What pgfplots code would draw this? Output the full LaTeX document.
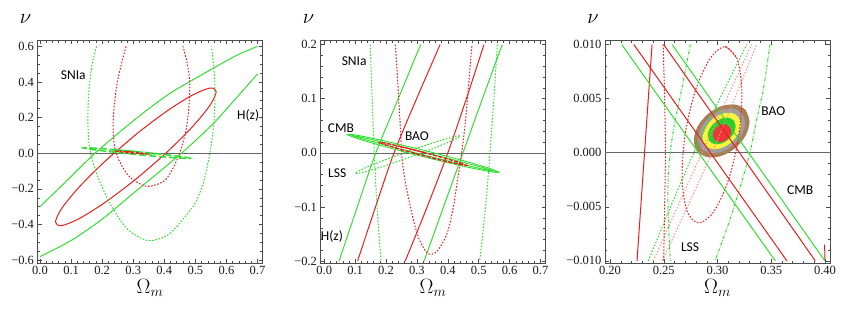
\documentclass[border=0pt]{standalone}
\usepackage{pgfplots}
\pgfplotsset{compat=1.18}
\usepackage{fontspec}
\setmainfont{Liberation Serif}
\newfontfamily\lab{Carlito}
\definecolor{cgreen}{RGB}{50,222,50}
\definecolor{cred}{RGB}{232,30,30}
\definecolor{cpink}{RGB}{255,140,140}
\definecolor{fbrown}{RGB}{168,128,88}
\definecolor{fgray}{RGB}{158,158,158}
\definecolor{fyellow}{RGB}{250,245,60}
\definecolor{fgreen}{RGB}{45,205,45}
\definecolor{fred}{RGB}{240,55,55}
\tikzset{lbl/.style={font=\lab\fontsize{13.5}{14}\selectfont, black}}
\pgfplotsset{
  base/.style={
    scale only axis, width=225pt, height=222.5pt, anchor=south west,
    axis line style={black!70, line width=0.5pt},
    tick align=inside, major tick length=4pt, minor tick length=2.2pt,
    every tick/.style={black!70, line width=0.5pt},
    tick label style={font=\fontsize{12.5}{13}\selectfont, black!90},
    scaled x ticks=false, scaled y ticks=false,
    xlabel={$\Omega_m$},
    xlabel style={font=\fontsize{21}{22}\selectfont, yshift=3pt},
    ylabel={$\nu$},
    ylabel style={rotate=-90, at={(rel axis cs:0,1)}, anchor=center, xshift=-12pt, yshift=21pt, font=\fontsize{20}{21}\selectfont},
    clip=true,
  },
  zline/.style={black!60, line width=0.5pt},
  gs/.style={draw=cgreen, line width=1pt, smooth},
  rs/.style={draw=cred, line width=1pt, smooth},
  gd/.style={draw=cgreen, line width=1pt, smooth, dash pattern=on 1.6pt off 1.6pt},
  rd/.style={draw=cred, line width=1pt, smooth, dash pattern=on 1.6pt off 1.6pt},
  pd/.style={draw=cpink, line width=1pt, smooth, dash pattern=on 1.4pt off 1.8pt},
  gdd/.style={draw=cgreen, line width=1pt, smooth, dash pattern=on 3pt off 1.5pt on 0.8pt off 1.5pt},
}
\begin{document}
\begin{tikzpicture}
\path[use as bounding box] (0,0) rectangle (855pt,316pt);
% ---------------- Panel 1 ----------------
\begin{axis}[base, at={(37.5pt,53pt)},
  xmin=-0.008, xmax=0.716, ymin=-0.616, ymax=0.633,
  xtick={0,0.1,0.2,0.3,0.4,0.5,0.6,0.7}, xticklabels={0.0,0.1,0.2,0.3,0.4,0.5,0.6,0.7},
  ytick={-0.6,-0.4,-0.2,0,0.2,0.4,0.6}, yticklabels={−0.6,−0.4,−0.2,0.0,0.2,0.4,0.6},
  minor x tick num=4, minor y tick num=3]
\addplot[zline] coordinates {(-0.01,0) (0.72,0)};
% H(z) green solid
\addplot[gs] coordinates {(0,-0.30) (0.09,-0.148) (0.177,0) (0.306,0.19) (0.413,0.33) (0.52,0.44) (0.628,0.545) (0.70,0.60)};
\addplot[gs] coordinates {(0,-0.58) (0.1,-0.49) (0.2,-0.37) (0.3,-0.225) (0.38,-0.11) (0.455,0) (0.515,0.095) (0.565,0.18) (0.625,0.297) (0.70,0.445)};
% red solid ellipse
\addplot[rs] coordinates {(0.3085,0.105) (0.2095,-0.0447) (0.1257,-0.1904) (0.0696,-0.3103) (0.05,-0.386) (0.0696,-0.4061) (0.1257,-0.3672) (0.2095,-0.2757) (0.3085,-0.145) (0.4075,0.0047) (0.4913,0.1504) (0.5474,0.2703) (0.567,0.346) (0.5474,0.3661) (0.4913,0.3272) (0.4075,0.2357) (0.3085,0.105) (0.2095,-0.0447)};
% SNIa red dotted
\addplot[rd] coordinates {(0.277,0.60) (0.262,0.5) (0.249,0.4) (0.241,0.3) (0.236,0.2) (0.236,0.1) (0.242,0.02) (0.26,-0.06) (0.29,-0.135) (0.343,-0.186) (0.40,-0.155) (0.432,-0.07) (0.455,0.03) (0.472,0.15) (0.481,0.3) (0.481,0.42) (0.472,0.52) (0.46,0.60)};
% SNIa green dotted
\addplot[gd] coordinates {(0.182,0.60) (0.168,0.5) (0.158,0.367) (0.154,0.2) (0.158,0.05) (0.172,-0.06) (0.195,-0.17) (0.231,-0.30) (0.284,-0.43) (0.348,-0.49) (0.41,-0.46) (0.46,-0.37) (0.499,-0.28) (0.525,-0.17) (0.541,-0.05) (0.553,0.07) (0.561,0.2) (0.563,0.367) (0.558,0.5) (0.552,0.60)};
% CMB green dashed thin ellipse
\addplot[draw=cgreen, line width=1.5pt, smooth, dash pattern=on 7pt off 3pt] coordinates {(0.311,0.009) (0.225,0.0224) (0.162,0.0301) (0.139,0.030) (0.162,0.0221) (0.225,0.0086) (0.311,-0.007) (0.397,-0.0204) (0.46,-0.0281) (0.483,-0.028) (0.46,-0.0201) (0.397,-0.0066) (0.311,0.009) (0.225,0.0224)};
% small BAO / combined
\addplot[gd] coordinates {(0.3,0.011) (0.26,0.0142) (0.2307,0.0149) (0.22,0.013) (0.2307,0.0089) (0.26,0.0038) (0.3,-0.001) (0.34,-0.0042) (0.3693,-0.0049) (0.38,-0.003) (0.3693,0.0011) (0.34,0.0062) (0.3,0.011) (0.26,0.0142)};
\addplot[draw=cred, line width=1.2pt, smooth, dash pattern=on 3pt off 2pt] coordinates {(0.295,0.007) (0.27,0.0106) (0.2517,0.0124) (0.245,0.012) (0.2517,0.0094) (0.27,0.0054) (0.295,0.001) (0.32,-0.0026) (0.3383,-0.0044) (0.345,-0.004) (0.3383,-0.0014) (0.32,0.0026) (0.295,0.007) (0.27,0.0106)};
\node[lbl] at (axis cs:0.107,0.44) {SNIa};
\node[lbl] at (axis cs:0.67,0.21) {H(z)};
\end{axis}
% ---------------- Panel 2 ----------------
\begin{axis}[base, at={(320.5pt,53pt)},
  xmin=-0.012, xmax=0.716, ymin=-0.2035, ymax=0.2075,
  xtick={0,0.1,0.2,0.3,0.4,0.5,0.6,0.7}, xticklabels={0.0,0.1,0.2,0.3,0.4,0.5,0.6,0.7},
  ytick={-0.2,-0.1,0,0.1,0.2}, yticklabels={−0.2,−0.1,0.0,0.1,0.2},
  minor x tick num=4, minor y tick num=4]
\addplot[zline] coordinates {(-0.02,0) (0.72,0)};
% H(z)
\addplot[gs] coordinates {(0.048,-0.2) (0.107,-0.1) (0.167,0) (0.2395,0.1) (0.312,0.2)};
\addplot[gs] coordinates {(0.323,-0.2) (0.386,-0.1) (0.449,0) (0.512,0.1) (0.576,0.2)};
\addplot[rs] coordinates {(0.108,-0.2) (0.166,-0.1) (0.226,0) (0.299,0.1) (0.375,0.2)};
\addplot[rs] coordinates {(0.262,-0.2) (0.333,-0.1) (0.40,0) (0.46,0.1) (0.517,0.2)};
% SNIa
\addplot[rd] coordinates {(0.23,0.2) (0.236,0.15) (0.241,0.10) (0.247,0.04) (0.252,-0.012) (0.267,-0.068) (0.30,-0.148) (0.333,-0.185) (0.365,-0.182) (0.398,-0.148) (0.418,-0.1) (0.43,-0.055) (0.445,0) (0.457,0.059) (0.468,0.13) (0.478,0.2)};
\addplot[gd] coordinates {(0.149,0.2) (0.155,0.1) (0.162,0) (0.171,-0.1) (0.184,-0.2)};
\addplot[gd] coordinates {(0.56,0.2) (0.549,0.1) (0.536,0) (0.522,-0.1) (0.503,-0.2)};
% LSS / BAO dotted
\addplot[gd] coordinates {(0.27,0.0025) (0.185,-0.0156) (0.1228,-0.0304) (0.10,-0.038) (0.1228,-0.0364) (0.185,-0.026) (0.27,-0.0095) (0.355,0.0086) (0.4172,0.0234) (0.44,0.031) (0.4172,0.0294) (0.355,0.019) (0.27,0.0025) (0.185,-0.0156)};
% CMB
\addplot[gs, line width=0.9pt] coordinates {(0.32,0.005) (0.1975,0.0217) (0.1078,0.0323) (0.075,0.034) (0.1078,0.0263) (0.1975,0.0113) (0.32,-0.007) (0.4425,-0.0237) (0.5322,-0.0343) (0.565,-0.036) (0.5322,-0.0283) (0.4425,-0.0133) (0.32,0.005) (0.1975,0.0217)};
\addplot[gs, line width=0.9pt] coordinates {(0.32,0.0015) (0.205,0.0177) (0.1208,0.0288) (0.09,0.032) (0.1208,0.0263) (0.205,0.0133) (0.32,-0.0035) (0.435,-0.0197) (0.5192,-0.0308) (0.55,-0.034) (0.5192,-0.0283) (0.435,-0.0153) (0.32,0.0015) (0.205,0.0177)};
\addplot[draw=cred, line width=1.3pt, smooth, dash pattern=on 4pt off 1.5pt] coordinates {(0.32,0.001) (0.25,0.0111) (0.1988,0.0177) (0.18,0.019) (0.1988,0.0147) (0.25,0.0059) (0.32,-0.005) (0.39,-0.0151) (0.4412,-0.0217) (0.46,-0.023) (0.4412,-0.0187) (0.39,-0.0099) (0.32,0.001) (0.25,0.0111)};
\node[lbl] at (axis cs:0.097,0.17) {SNIa};
\node[lbl] at (axis cs:0.054,0.046) {CMB};
\node[lbl] at (axis cs:0.30,0.03) {BAO};
\node[lbl] at (axis cs:0.042,-0.037) {LSS};
\node[lbl] at (axis cs:0.025,-0.154) {H(z)};
\end{axis}
% ---------------- Panel 3 ----------------
\begin{axis}[base, at={(605pt,53pt)},
  xmin=0.1953, xmax=0.4047, ymin=-0.0102, ymax=0.01037,
  xtick={0.2,0.25,0.3,0.35,0.4}, xticklabels={0.20,0.25,0.30,0.35,0.40},
  ytick={-0.01,-0.005,0,0.005,0.01}, yticklabels={−0.010,−0.005,0.000,0.005,0.010},
  minor x tick num=4, minor y tick num=4]
\addplot[zline] coordinates {(0.19,0) (0.41,0)};
% filled joint contours
\addplot[fill=fbrown, draw=none, smooth] coordinates {(0.32637,0.003914) (0.32985,0.002879) (0.32637,0.001611) (0.31686,0.000449) (0.30388,-0.000295) (0.29089,-0.000421) (0.28139,0.000104) (0.27791,0.001139) (0.28139,0.002407) (0.2909,0.003569) (0.30388,0.004313) (0.31687,0.004439) (0.32637,0.003914) (0.32985,0.002879)};
\addplot[fill=fgray, draw=none, smooth] coordinates {(0.32286,0.003617) (0.32577,0.002745) (0.32282,0.001677) (0.31479,0.000697) (0.30384,0.000069) (0.2929,-0.000039) (0.2849,0.000401) (0.28199,0.001273) (0.28494,0.002341) (0.29297,0.003321) (0.30392,0.003949) (0.31486,0.004057) (0.32286,0.003617) (0.32577,0.002745)};
\addplot[fill=fyellow, draw=none, smooth] coordinates {(0.31934,0.003319) (0.32169,0.002611) (0.31927,0.001743) (0.31273,0.000945) (0.30381,0.000433) (0.29491,0.000343) (0.28842,0.000699) (0.28607,0.001407) (0.28849,0.002275) (0.29503,0.003073) (0.30395,0.003585) (0.31285,0.003675) (0.31934,0.003319) (0.32169,0.002611)};
\addplot[fill=fgreen, draw=none, smooth] coordinates {(0.31513,0.002962) (0.31686,0.002444) (0.31513,0.001811) (0.31037,0.001229) (0.30388,0.000857) (0.29739,0.000794) (0.29264,0.001056) (0.2909,0.001574) (0.29264,0.002207) (0.29739,0.002789) (0.30388,0.003161) (0.31037,0.003224) (0.31513,0.002962) (0.31686,0.002444)};
\addplot[fill=fred, draw=none, smooth] coordinates {(0.31133,0.002395) (0.31275,0.002031) (0.3119,0.001607) (0.30902,0.001233) (0.30487,0.001011) (0.30057,0.001001) (0.29727,0.001205) (0.29585,0.001569) (0.2967,0.001993) (0.29958,0.002367) (0.30373,0.002589) (0.30803,0.002599) (0.31133,0.002395) (0.31275,0.002031)};
% LSS dotted lines
\addplot[gd] coordinates {(0.2356,-0.01) (0.2780,0) (0.3272,0.01)};
\addplot[pd] coordinates {(0.2403,-0.01) (0.2856,0) (0.3318,0.01)};
\addplot[pd] coordinates {(0.2486,-0.01) (0.2949,0) (0.3364,0.01)};
% SNIa
\addplot[rd] coordinates {(0.2494,0.01) (0.2508,0.005) (0.2515,0.0) (0.2508,-0.005) (0.2499,-0.01)};
\addplot[gdd] coordinates {(0.2747,0.01) (0.2669,0.006) (0.2588,0.002) (0.2542,-0.002) (0.2542,-0.006) (0.2561,-0.01)};
\addplot[gdd] coordinates {(0.3488,0.01) (0.3429,0.006) (0.3363,0.003) (0.3302,0.0) (0.3216,-0.003) (0.3105,-0.0065) (0.2977,-0.01)};
% BAO red dotted ellipse
\addplot[rd] coordinates {(0.3070,0.00981) (0.3182,0.00869) (0.3227,0.00571) (0.3200,0.00164) (0.3105,-0.00244) (0.2968,-0.00542) (0.2825,-0.00651) (0.2717,-0.00542) (0.2670,-0.00244) (0.2698,0.00164) (0.2793,0.00571) (0.2930,0.00869) (0.3070,0.00981) (0.3182,0.00869)};
% H(z)
\addplot[rs] coordinates {(0.2251,-0.01) (0.2391,0.01)};
\addplot[rs] coordinates {(0.3997,-0.0085) (0.4,-0.01)};
% CMB
\addplot[gs] coordinates {(0.2108,0.01) (0.3538,-0.01)};
\addplot[rs] coordinates {(0.2221,0.01) (0.3646,-0.01)};
\addplot[rs] coordinates {(0.2499,0.01) (0.3910,-0.01)};
\addplot[gs] coordinates {(0.2577,0.01) (0.4,-0.01)};
\node[lbl] at (axis cs:0.352,0.0038) {BAO};
\node[lbl] at (axis cs:0.3769,-0.00345) {CMB};
\node[lbl] at (axis cs:0.2745,-0.0087) {LSS};
\end{axis}
\end{tikzpicture}
\end{document}
